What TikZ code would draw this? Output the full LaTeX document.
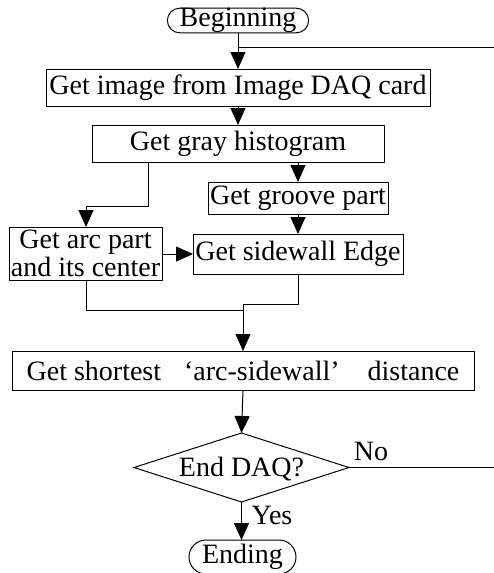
\documentclass[tikz,border=0pt]{standalone}
\usepackage{fontspec}
\setmainfont{Liberation Serif}
\usetikzlibrary{arrows.meta,shapes.geometric,shapes.misc}
\begin{document}
\begin{tikzpicture}[x=1pt,y=-1pt,
  font=\fontsize{28}{28}\selectfont,
  every node/.style={inner sep=0pt, outer sep=0pt},
  proc/.style={draw, line width=1pt, rectangle, align=center},
  term/.style={draw, line width=1pt, rounded rectangle},
  link/.style={line width=1pt},
  flow/.style={line width=1pt, -{Triangle[length=17pt,width=15pt]}}]
\useasboundingbox (0,0) rectangle (494,573);

% process boxes
\node[term, minimum width=121pt, minimum height=23pt] (begin) at (238,20.5) {Beginning};
\node[proc, minimum width=384pt, minimum height=37pt] (img) at (238,87.5) {Get image from Image DAQ card};
\node[proc, minimum width=292pt, minimum height=37pt] (gray) at (238,143.5) {Get gray histogram};
\node[proc, minimum width=180pt, minimum height=32pt] (groove) at (298,198) {Get groove part};
\node[proc, minimum width=210pt, minimum height=40pt] (side) at (298,254) {Get sidewall Edge};
\node[proc, minimum width=153pt, minimum height=53pt] (arc) at (85.5,253.5) {Get arc part\\and its center};
\node[proc, minimum width=462pt, minimum height=39pt] (dist) at (243,370.5) {Get shortest\hspace{23pt}‘arc-sidewall’\hspace{28pt}distance};

% decision diamond
\path[draw, line width=1pt] (134,467.5) coordinate (decW) -- (241.5,433) coordinate (decN)
  -- (349,467.5) coordinate (decE) -- (241.5,502) coordinate (decS) -- cycle;
\node (dec) at (241.5,469) {End DAQ?};
\node[term, minimum width=107pt, minimum height=34pt] (ending) at (242.5,557) {Ending};

% loop-back ends at the right margin
\coordinate (loopTop) at (494,47);
\coordinate (loopNo) at (494,467.5);
\coordinate (merge) at (243,304);
\coordinate (bendA) at (86,206);

% connectors
\draw[flow] (begin.south) -- (img.north);
\draw[link] (begin.south |- loopTop) -- (loopTop);
\draw[flow] (img.south) -- (gray.north);
\draw[link] (148,162) |- (bendA);
\draw[flow] (bendA) -- (bendA |- arc.north);
\draw[flow] (gray.south -| groove.north) -- (groove.north);
\draw[flow] (groove.south) -- (side.north);
\draw[flow] (arc.east |- side.west) -- (side.west);
\draw[link] (side.south) |- (merge);
\draw[link] (arc.south -| bendA) |- (243,310);
\draw[flow] (merge) -- (merge |- dist.north);
\draw[flow] (dist.south -| merge) -- (decN);
\draw[link] (decE) -- (loopNo);
\draw[flow] (decS) -- (ending.north -| decS);

% branch labels
\node at (371,451) {No};
\node at (272,515) {Yes};
\end{tikzpicture}
\end{document}
